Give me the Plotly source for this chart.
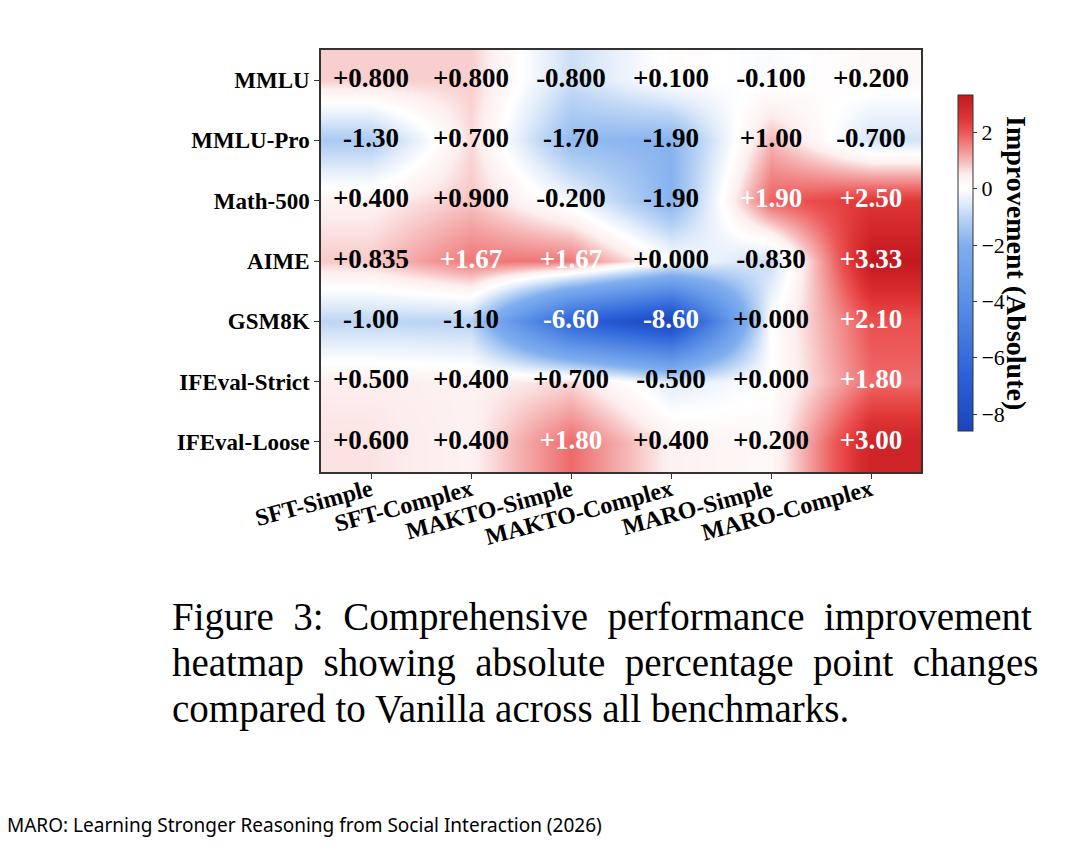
import plotly.graph_objects as go


# Data
methods = ["SFT-Simple", "SFT-Complex", "MAKTO-Simple", "MAKTO-Complex", "MARO-Simple", "MARO-Complex"]
benchmarks = ["MMLU", "MMLU-Pro", "Math-500", "AIME", "GSM8K", "IFEval-Strict", "IFEval-Loose"]

mmlu = [0.8, 0.8, -0.8, 0.1, -0.1, 0.2]
mmlu_pro = [-1.3, 0.7, -1.7, -1.9, 1.0, -0.7]
math_500 = [0.4, 0.9, -0.2, -1.9, 1.9, 2.5]
aime = [0.835, 1.67, 1.67, 0.0, -0.83, 3.33]
gsm8k = [-1.0, -1.1, -6.6, -8.6, 0.0, 2.1]
ifeval_strict = [0.5, 0.4, 0.7, -0.5, 0.0, 1.8]
ifeval_loose = [0.6, 0.4, 1.8, 0.4, 0.2, 3.0]

z = [mmlu, mmlu_pro, math_500, aime, gsm8k, ifeval_strict, ifeval_loose]

caption = [
    "Figure\u00a0\u00a03:\u00a0\u00a0Comprehensive\u00a0\u00a0performance\u00a0\u00a0improvement",
    "heatmap\u00a0\u00a0showing\u00a0\u00a0absolute\u00a0\u00a0percentage\u00a0\u00a0point\u00a0\u00a0changes",
    "compared to Vanilla across all benchmarks.",
]
footer = "MARO: Learning Stronger Reasoning from Social Interaction (2026)"


zmin = min(min(r) for r in z)
zmax = max(max(r) for r in z)

# Diverging colour map with white pinned at zero
stops = [
    (-8.6, "#1c44bb"),
    (-6.6, "#2c62d8"),
    (-4.0, "#5a8fe6"),
    (-2.0, "#80aeee"),
    (-1.0, "#bdd6f5"),
    (-0.5, "#e2ecfa"),
    (0.0, "#ffffff"),
    (0.5, "#fdeeee"),
    (1.0, "#f6b8b8"),
    (2.0, "#ec5656"),
    (2.5, "#e03535"),
    (3.33, "#c2181f"),
]
colorscale = [[(v - zmin) / (zmax - zmin), c] for v, c in stops]


def fmt(v):
    return f"{v:+.3f}" if abs(v) < 1 else f"{v:+.2f}"


xs, ys, labels, colors = [], [], [], []
for b, row in zip(benchmarks, z):
    for m, v in zip(methods, row):
        xs.append(m)
        ys.append(b)
        labels.append(fmt(v))
        colors.append("white" if (v >= 1.5 or v <= -4) else "black")

serif = "Liberation Serif"

# the page sits ~8px in from the window corner
DX, DY = 8, 8
L, R, T, B = 321 - DX, 921 - DX, 50 - DY, 472 - DY

fig = go.Figure()

fig.add_trace(
    go.Heatmap(
        z=z,
        x=methods,
        y=benchmarks,
        zmin=zmin,
        zmax=zmax,
        zsmooth="best",
        colorscale=colorscale,
        hoverinfo="skip",
        colorbar=dict(
            x=(958 - DX - L) / (R - L),
            xanchor="left",
            y=(B - (263 - DY)) / (B - T),
            yanchor="middle",
            len=336 / (B - T),
            thickness=15,
            xpad=0,
            ypad=0,
            outlinewidth=1,
            outlinecolor="#333",
            tickvals=[-8, -6, -4, -2, 0, 2],
            ticks="outside",
            ticklen=4,
            tickcolor="#333",
            tickfont=dict(family=serif, size=22, color="black"),
        ),
    )
)

fig.add_trace(
    go.Scatter(
        x=xs,
        y=ys,
        mode="text",
        text=labels,
        textfont=dict(family=serif, size=27, color=colors, weight="bold"),
        hoverinfo="skip",
        showlegend=False,
    )
)


def px_x(p):
    return (p - DX - L) / (R - L)


def px_y(p):
    return (B - (p - DY)) / (B - T)


annotations = [
    dict(
        text="Improvement (Absolute)",
        x=px_x(1016),
        y=px_y(263),
        xanchor="center",
        textangle=90,
        font=dict(family=serif, size=28, color="black", weight="bold"),
    )
]
for i, line in enumerate(caption):
    annotations.append(
        dict(
            text=line,
            x=px_x(170),
            y=px_y(617 + 46 * i),
            xanchor="left",
            font=dict(family=serif, size=39, color="black"),
        )
    )
annotations.append(
    dict(
        text=footer,
        x=px_x(5),
        y=px_y(825),
        xanchor="left",
        font=dict(family="Noto Sans", size=19, color="black"),
    )
)
for a in annotations:
    a.update(xref="paper", yref="paper", showarrow=False, yanchor="middle")

fig.update_layout(
    width=1080,
    height=856,
    plot_bgcolor="white",
    paper_bgcolor="white",
    margin=dict(l=L, r=1080 - R, t=T, b=856 - B),
    annotations=annotations,
    showlegend=False,
)

fig.update_xaxes(
    type="category",
    tickangle=-15,
    tickfont=dict(family=serif, size=24, color="black", weight="bold"),
    ticklabelstandoff=-12,
    ticks="outside",
    ticklen=5,
    tickcolor="#333",
    showline=True,
    mirror=True,
    linecolor="#333",
    linewidth=1.5,
    showgrid=False,
    zeroline=False,
)

fig.update_yaxes(
    type="category",
    autorange="reversed",
    tickfont=dict(family=serif, size=23, color="black", weight="bold"),
    ticks="outside",
    ticklen=5,
    tickcolor="#333",
    showline=True,
    mirror=True,
    linecolor="#333",
    linewidth=1.5,
    showgrid=False,
    zeroline=False,
)

fig.write_html("out.html")
